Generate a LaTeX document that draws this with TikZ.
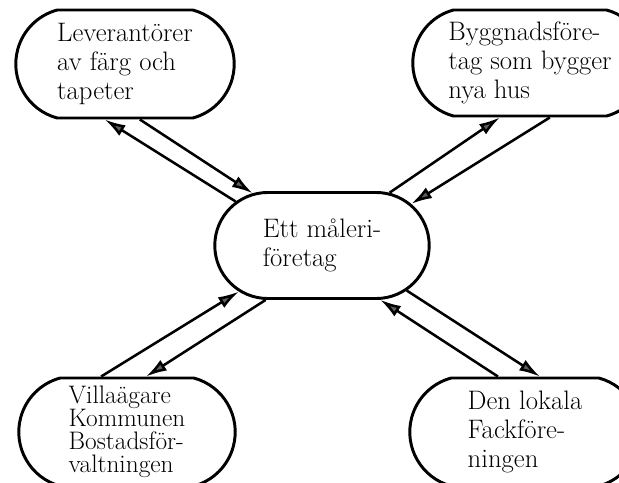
\documentclass[tikz,border=0pt]{standalone}
\usepackage{fontspec}
\usepackage{xcolor}
\definecolor{Black}{RGB}{0,0,0}
\definecolor{Grey}{RGB}{95,95,95}
\definecolor{White}{RGB}{255,255,255}
\usetikzlibrary{shapes.misc, arrows.meta}

\begin{document}
\begin{tikzpicture}[x=0.025cm, y=-0.025cm,
	box/.style={draw=Black, fill=White, line width=2.1pt, rounded rectangle, rounded rectangle arc length=150, align=left, inner sep=2pt, font=\fontsize{19}{20.8}\selectfont},
	link/.style={-{Latex[length=5.2mm, width=3.1mm, fill=Grey]}, draw=Black, line width=1.8pt}]
		
		% Frame
		\useasboundingbox (0,0) rectangle (619,482);
		\clip (0,0) rectangle (619,482);
		
		% Nodes
		\node[box, minimum width=5.6cm, minimum height=2.7cm] (lev) at (125,64) {Leverantörer\\av färg och\\tapeter};
		\node[box, minimum width=6cm, minimum height=2.65cm] (bygg) at (530,63) {Byggnadsföre-\\tag som bygger\\nya hus};
		\node[box, rounded rectangle arc length=180, minimum width=5.5cm, minimum height=2.65cm] (mal) at (322,245.5) {Ett måleri-\\företag};
		\node[box, minimum width=5.55cm, minimum height=2.7cm, font=\fontsize{18}{16.3}\selectfont] (villa) at (127,432) {Villaägare\\Kommunen\\Bostadsför-\\valtningen};
		\node[box, minimum width=5.9cm, minimum height=2.7cm] (fack) at (525,432) {Den lokala\\Fackföre-\\ningen};
		
		% Arrows
		\draw[link] (mal.153) -- (lev.250);
		\draw[link] (lev.285) -- (mal.143);
		
		\draw[link] (mal.38) -- (bygg.241);
		\draw[link] (bygg.290) -- (mal.25);
		
		\draw[link] (villa.115) -- (mal.209);
		\draw[link] (mal.224) -- (villa.71);
		
		\draw[link] (mal.332) -- (fack.75);
		\draw[link] (fack.116) -- (mal.317);
		
	\end{tikzpicture}
\end{document}
